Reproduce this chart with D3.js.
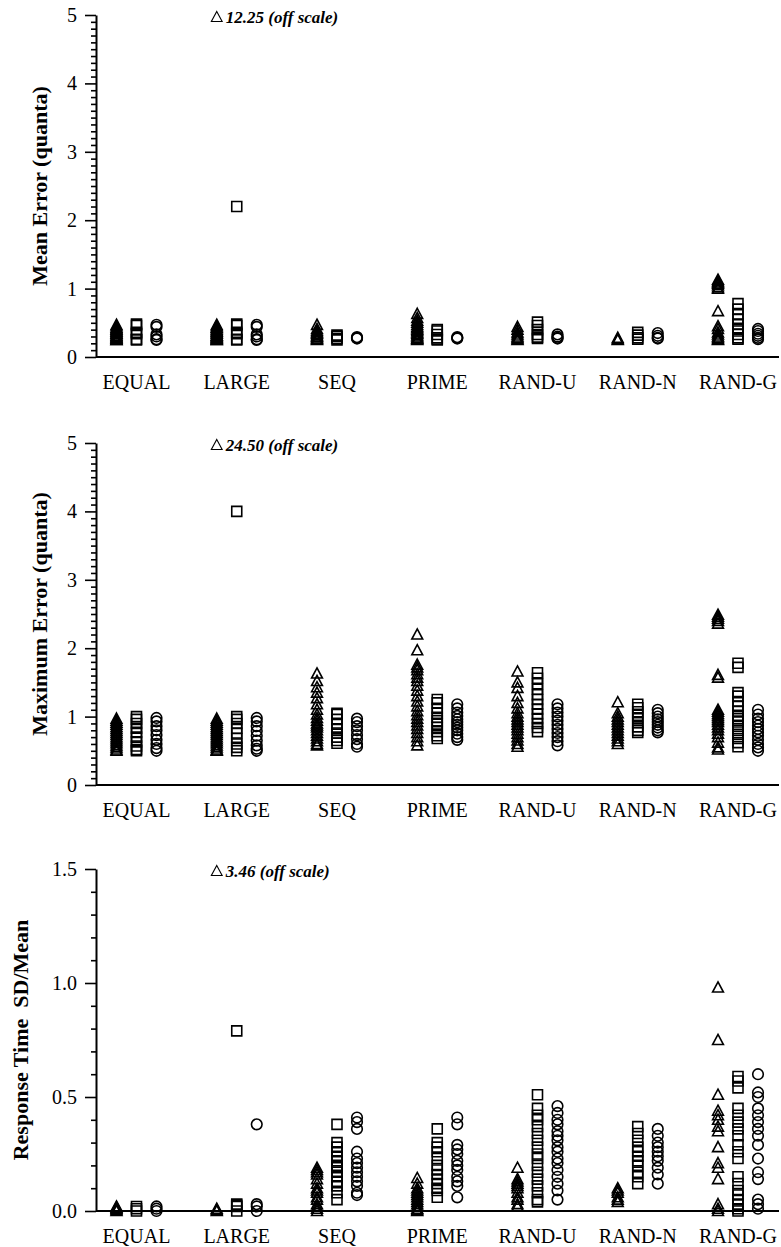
<!DOCTYPE html>
<html>
<head>
<meta charset="utf-8">
<script src="https://cdn.jsdelivr.net/npm/d3@7/dist/d3.min.js"></script>
<style>
  html, body { margin: 0; padding: 0; background: #fff; }
  svg { display: block; }
  text { font-family: "Liberation Serif", "Times New Roman", Times, serif; fill: #000; }
</style>
</head>
<body>
<svg id="chart" width="781" height="1247"></svg>
<script>
// Conditions along the x axis
const categories = ["EQUAL", "LARGE", "SEQ", "PRIME", "RAND-U", "RAND-N", "RAND-G"];

// Mean error (quanta): one list per condition, for each marker series
const meanTri = [
  [0.47,0.45,0.43,0.41,0.40,0.38,0.37,0.35,0.34,0.33,0.31,0.30,0.29,0.28,0.27,0.26,0.25,0.25],
  [0.47,0.45,0.43,0.42,0.40,0.38,0.37,0.35,0.34,0.32,0.31,0.30,0.29,0.28,0.27,0.26,0.25,0.25],
  [0.47,0.41,0.38,0.36,0.34,0.32,0.30,0.29,0.27,0.26,0.25],
  [0.63,0.57,0.53,0.50,0.47,0.44,0.42,0.40,0.38,0.36,0.34,0.32,0.30,0.28,0.27,0.26,0.25],
  [0.44,0.40,0.36,0.33,0.30,0.28,0.26,0.25],
  [0.28,0.26,0.25],
  [1.13,1.11,1.09,1.07,1.05,1.02,1.00,0.67,0.45,0.41,0.36,0.33,0.30,0.28,0.26,0.25]
];
const meanSq = [
  [0.48,0.46,0.36,0.34,0.26,0.25],
  [2.20,0.48,0.46,0.36,0.34,0.26,0.25],
  [0.32,0.30,0.27,0.25],
  [0.40,0.38,0.33,0.28,0.26,0.25],
  [0.51,0.46,0.40,0.33,0.29,0.27],
  [0.36,0.32,0.28,0.26],
  [0.78,0.70,0.62,0.55,0.48,0.42,0.38,0.33,0.28,0.26]
];
const meanCirc = [
  [0.47,0.44,0.33,0.30,0.26,0.25],
  [0.47,0.44,0.33,0.30,0.26,0.25],
  [0.29,0.28,0.27],
  [0.29,0.28,0.27],
  [0.33,0.30,0.28,0.27],
  [0.35,0.31,0.28,0.27],
  [0.41,0.38,0.34,0.31,0.28,0.26]
];
const meanOffScale = ["LARGE", 12.25];

// Maximum error (quanta)
const maxTri = [
  [0.97,0.94,0.91,0.88,0.85,0.82,0.79,0.76,0.73,0.70,0.67,0.64,0.61,0.58,0.55,0.52,0.50],
  [0.97,0.94,0.91,0.88,0.85,0.82,0.79,0.76,0.73,0.70,0.67,0.64,0.61,0.58,0.55,0.52,0.50,0.50],
  [1.63,1.52,1.43,1.35,1.27,1.18,1.10,1.03,0.98,0.94,0.90,0.87,0.84,0.80,0.76,0.72,0.68,0.64,0.60,0.58],
  [2.20,1.97,1.76,1.72,1.68,1.62,1.57,1.52,1.45,1.38,1.30,1.22,1.15,1.08,1.02,0.97,0.92,0.87,0.82,0.76,0.70,0.64,0.58],
  [1.66,1.50,1.42,1.30,1.20,1.12,1.05,1.00,0.96,0.92,0.88,0.84,0.80,0.75,0.70,0.65,0.60,0.56],
  [1.21,1.05,1.00,0.96,0.92,0.88,0.84,0.80,0.76,0.72,0.68,0.64,0.60],
  [2.49,2.46,2.43,2.40,2.36,1.61,1.57,1.10,1.07,1.04,1.01,0.98,0.95,0.92,0.88,0.84,0.80,0.75,0.70,0.62,0.55,0.52]
];
const maxSq = [
  [1.00,0.96,0.90,0.83,0.77,0.70,0.63,0.57,0.52,0.50],
  [4.00,1.00,0.96,0.90,0.83,0.76,0.68,0.60,0.55,0.50],
  [1.05,1.03,0.96,0.89,0.82,0.76,0.70,0.65,0.61],
  [1.25,1.20,1.12,1.05,0.99,0.94,0.89,0.84,0.78,0.72,0.68],
  [1.64,1.56,1.48,1.40,1.32,1.25,1.18,1.11,1.04,0.97,0.90,0.84,0.78],
  [1.18,1.13,1.07,1.02,0.97,0.91,0.85,0.80,0.77],
  [1.78,1.72,1.35,1.30,1.22,1.15,1.08,1.02,0.97,0.92,0.86,0.80,0.74,0.68,0.62,0.56]
];
const maxCirc = [
  [0.98,0.93,0.86,0.80,0.73,0.66,0.60,0.54,0.50],
  [0.98,0.93,0.86,0.79,0.72,0.65,0.58,0.53,0.50],
  [0.97,0.92,0.86,0.80,0.73,0.67,0.60,0.56],
  [1.18,1.12,1.06,1.01,0.96,0.92,0.88,0.84,0.80,0.75,0.70,0.66],
  [1.18,1.12,1.06,1.00,0.94,0.88,0.82,0.76,0.70,0.64,0.58],
  [1.10,1.05,1.00,0.96,0.92,0.88,0.84,0.80,0.77],
  [1.10,1.03,0.97,0.92,0.87,0.82,0.77,0.72,0.66,0.60,0.55,0.50]
];
const maxOffScale = ["LARGE", 24.50];

// Response time SD/Mean
const rtTri = [
  [0.02,0.015,0.01,0.005,0.0],
  [0.01,0.005,0.0],
  [0.19,0.18,0.17,0.16,0.14,0.12,0.10,0.09,0.08,0.06,0.05,0.03,0.02,0.01,0.0],
  [0.145,0.12,0.10,0.09,0.08,0.07,0.06,0.05,0.04,0.03,0.02,0.01,0.005,0.0],
  [0.19,0.14,0.13,0.12,0.11,0.10,0.08,0.06,0.05,0.03,0.02],
  [0.10,0.09,0.08,0.06,0.05,0.04],
  [0.98,0.75,0.51,0.44,0.42,0.40,0.37,0.35,0.28,0.21,0.19,0.14,0.03,0.01,0.0]
];
const rtSq = [
  [0.02,0.01,0.0],
  [0.79,0.03,0.025,0.02,0.0],
  [0.38,0.30,0.28,0.26,0.24,0.22,0.20,0.19,0.17,0.15,0.13,0.11,0.08,0.05],
  [0.36,0.30,0.28,0.26,0.23,0.20,0.18,0.16,0.14,0.12,0.10,0.09,0.06],
  [0.51,0.45,0.42,0.40,0.37,0.34,0.31,0.28,0.25,0.23,0.20,0.17,0.14,0.11,0.08,0.05,0.04],
  [0.37,0.34,0.31,0.28,0.26,0.24,0.22,0.20,0.17,0.15,0.12],
  [0.59,0.57,0.54,0.45,0.42,0.39,0.36,0.33,0.29,0.26,0.23,0.15,0.12,0.09,0.07,0.05,0.03,0.01,0.0]
];
const rtCirc = [
  [0.02,0.01,0.0],
  [0.38,0.03,0.02,0.0],
  [0.41,0.39,0.36,0.26,0.23,0.21,0.19,0.17,0.15,0.13,0.11,0.08,0.07],
  [0.41,0.38,0.29,0.27,0.25,0.22,0.20,0.18,0.15,0.13,0.11,0.06],
  [0.46,0.43,0.40,0.38,0.35,0.33,0.31,0.28,0.26,0.23,0.21,0.18,0.15,0.12,0.09,0.05],
  [0.36,0.33,0.30,0.28,0.26,0.24,0.22,0.19,0.16,0.12],
  [0.60,0.52,0.50,0.45,0.42,0.39,0.36,0.33,0.29,0.23,0.17,0.14,0.05,0.03,0.01]
];
const rtOffScale = ["LARGE", 3.46];

// Axis tick values
const errorTicks = [0, 1, 2, 3, 4, 5];
const rtTicks = [0, 0.5, 1.0, 1.5];

// ---- layout ----
const svg = d3.select("#chart");
const axisX = 96, plotRight = 779;
const panelHeight = 342;
const seriesOffset = { tri: -20, sq: 0, circ: 20 };

const x = d3.scalePoint().domain(categories).range([136.5, 738]);

const panels = [
  { top: 15,  max: 5,   ticks: errorTicks, fmt: d3.format("d"),  title: "Mean Error (quanta)",    titleX: 47,
    tri: meanTri, sq: meanSq, circ: meanCirc, off: meanOffScale },
  { top: 443, max: 5,   ticks: errorTicks, fmt: d3.format("d"),  title: "Maximum Error (quanta)", titleX: 47,
    tri: maxTri,  sq: maxSq,  circ: maxCirc,  off: maxOffScale },
  { top: 869, max: 1.5, ticks: rtTicks,    fmt: d3.format(".1f"), title: "Response Time  SD/Mean", titleX: 28,
    tri: rtTri,   sq: rtSq,   circ: rtCirc,   off: rtOffScale }
];

// marker outlines, centred on (0,0)
function markerPath(kind) {
  const p = d3.path();
  if (kind === "tri") {
    p.moveTo(0, -5.6); p.lineTo(5.4, 4.5); p.lineTo(-5.4, 4.5); p.closePath();
  } else if (kind === "sq") {
    p.rect(-5, -5, 10, 10);
  } else {
    p.arc(0, 0, 5.3, 0, 2 * Math.PI);
  }
  return p.toString();
}

panels.forEach(pn => {
  const bottom = pn.top + panelHeight;
  const y = d3.scaleLinear().domain([0, pn.max]).range([bottom, pn.top]);
  const g = svg.append("g");

  // minor ticks every 0.1
  const minor = d3.range(0, Math.round(pn.max * 10) + 1).map(i => i / 10)
    .filter(v => !pn.ticks.some(t => Math.abs(t - v) < 1e-9));
  g.append("g")
    .attr("transform", `translate(${axisX},0)`)
    .call(d3.axisLeft(y).tickValues(minor).tickSize(5).tickFormat(""))
    .call(a => a.select(".domain").remove())
    .call(a => a.selectAll("line").attr("stroke", "#000").attr("stroke-width", 1.6));

  // major ticks and labels
  g.append("g")
    .attr("transform", `translate(${axisX},0)`)
    .call(d3.axisLeft(y).tickValues(pn.ticks).tickSize(11).tickSizeOuter(0).tickPadding(8).tickFormat(pn.fmt))
    .call(a => a.select(".domain").attr("stroke", "#000").attr("stroke-width", 2))
    .call(a => a.selectAll("line").attr("stroke", "#000").attr("stroke-width", 1.6))
    .call(a => a.selectAll("text")
      .style("font-family", '"Liberation Serif", "Times New Roman", serif')
      .style("font-size", "20px").attr("fill", "#000"));

  // x axis baseline
  g.append("line")
    .attr("x1", axisX).attr("x2", plotRight)
    .attr("y1", y(0)).attr("y2", y(0))
    .attr("stroke", "#000").attr("stroke-width", 2);

  // condition labels
  g.selectAll("text.cat").data(categories).join("text")
    .attr("class", "cat")
    .attr("x", d => x(d)).attr("y", bottom + 32)
    .attr("text-anchor", "middle")
    .style("font-size", "20px")
    .text(d => d);

  // y axis title
  g.append("text")
    .attr("transform", `translate(${pn.titleX},${(pn.top + bottom) / 2}) rotate(-90)`)
    .attr("text-anchor", "middle")
    .style("font-size", "22px").style("font-weight", "bold")
    .style("white-space", "pre")
    .attr("xml:space", "preserve")
    .text(pn.title);

  // data markers
  [["tri", pn.tri], ["sq", pn.sq], ["circ", pn.circ]].forEach(([kind, rows]) => {
    const pts = [];
    rows.forEach((vals, ci) => vals.forEach(v => pts.push({ cat: categories[ci], v })));
    g.append("g").selectAll("path").data(pts).join("path")
      .attr("d", markerPath(kind))
      .attr("transform", d => `translate(${x(d.cat) + seriesOffset[kind]},${y(d.v)})`)
      .attr("fill", "none")
      .attr("stroke", "#000")
      .attr("stroke-width", 1.6);
  });

  // off-scale point: triangle series, value stated in the note
  const [offCat, offVal] = pn.off;
  const ox = x(offCat) + seriesOffset.tri;
  const oy = pn.top + 2;
  g.append("path")
    .attr("d", markerPath("tri"))
    .attr("transform", `translate(${ox},${oy})`)
    .attr("fill", "none").attr("stroke", "#000").attr("stroke-width", 1.1);
  g.append("text")
    .attr("x", ox + 9).attr("y", oy + 5.5)
    .style("font-size", "17px").style("font-weight", "bold").style("font-style", "italic")
    .text(`${d3.format(".2f")(offVal)} (off scale)`);
});
</script>
</body>
</html>
